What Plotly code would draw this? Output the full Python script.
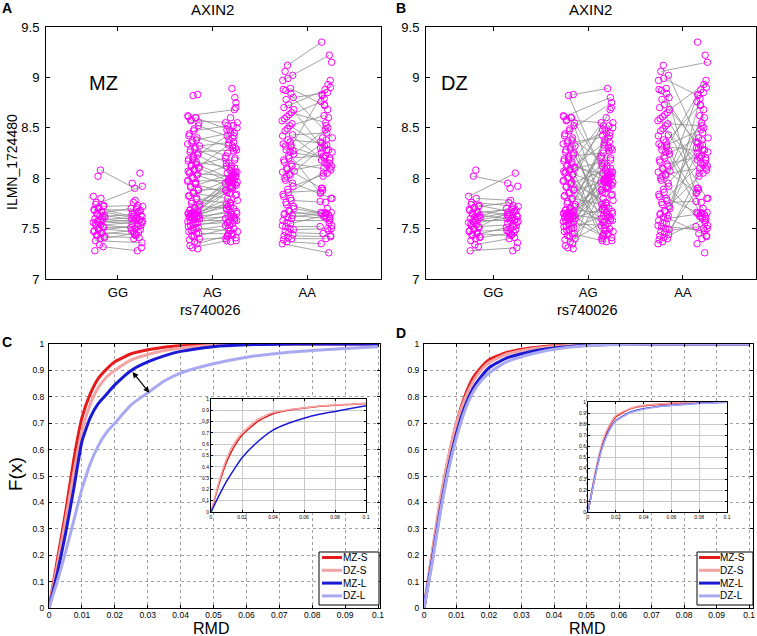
import plotly.graph_objects as go

W, H = 757, 636
FONT = "Liberation Sans, Arial, sans-serif"

# ---------------- data: expression by genotype (twin 1 / twin 2) ----------------
GENOTYPES = ["GG", "AG", "AA"]

GG_MZ_T1 = [8.08, 7.74, 7.72, 7.70, 7.69, 7.67, 7.65, 7.63, 7.62, 7.60, 7.59, 7.57, 7.56, 7.54, 7.53, 7.51, 7.50, 7.48, 7.46, 7.44, 7.42, 7.40, 7.38, 7.32]
GG_MZ_T2 = [7.90, 7.92, 7.73, 7.62, 7.68, 7.60, 7.70, 7.58, 7.64, 7.56, 7.61, 7.55, 7.59, 7.50, 7.57, 7.52, 7.47, 7.53, 7.44, 7.48, 7.41, 7.45, 7.36, 7.28]
GG_DZ_T1 = [8.02, 7.82, 7.80, 7.76, 7.73, 7.71, 7.68, 7.66, 7.64, 7.61, 7.58, 7.55, 7.52, 7.49, 7.47, 7.45, 7.43, 7.41, 7.34, 7.28, 7.62, 7.57]
GG_DZ_T2 = [7.95, 8.05, 7.78, 7.72, 7.66, 7.76, 7.63, 7.69, 7.60, 7.67, 7.58, 7.62, 7.54, 7.66, 7.49, 7.43, 7.51, 7.46, 7.40, 7.31, 7.71, 7.64]

AG_MZ_T1 = [8.62, 8.60, 8.57, 8.52, 8.47, 8.42, 8.38, 8.35, 8.32, 8.29, 8.26, 8.23, 8.20, 8.17, 8.14, 8.12, 8.10, 8.08, 8.05, 8.03,
            8.00, 7.97, 7.94, 7.91, 7.88, 7.85, 7.82, 7.79, 7.75, 7.72, 7.70, 7.68, 7.67, 7.66, 7.65, 7.64, 7.64, 7.63, 7.63, 7.62,
            7.62, 7.61, 7.60, 7.59, 7.58, 7.56, 7.54, 7.52, 7.50, 7.48, 7.45, 7.42, 7.39, 7.35, 7.31]
AG_MZ_T2 = [8.68, 8.48, 8.55, 8.40, 8.52, 8.30, 8.45, 8.22, 8.36, 8.15, 8.28, 8.05, 8.42, 8.10, 8.00, 8.20, 7.95, 8.33, 8.02, 7.92,
            8.12, 7.98, 7.85, 8.06, 7.90, 7.80, 8.01, 7.75, 7.88, 7.70, 7.97, 7.93, 7.99, 7.86, 8.04, 7.96, 7.78, 7.91, 7.72, 7.83,
            7.66, 7.74, 7.62, 7.68, 7.58, 7.64, 7.56, 7.60, 7.48, 7.53, 7.45, 7.50, 7.41, 7.44, 7.38]
AG_DZ_T1 = [8.83, 8.82, 8.61, 8.60, 8.58, 8.55, 8.49, 8.44, 8.40, 8.37, 8.34, 8.31, 8.28, 8.25, 8.22, 8.19, 8.16, 8.13, 8.11, 8.09,
            8.06, 8.04, 8.01, 7.98, 7.95, 7.92, 7.89, 7.86, 7.83, 7.80, 7.77, 7.74, 7.71, 7.69, 7.67, 7.66, 7.65, 7.65, 7.64, 7.63,
            7.62, 7.61, 7.60, 7.59, 7.57, 7.55, 7.53, 7.51, 7.49, 7.47, 7.45, 7.43, 7.40, 7.37, 7.33, 7.30, 8.18, 8.07, 7.96, 7.64]
AG_DZ_T2 = [8.89, 8.05, 8.80, 7.62, 8.55, 8.00, 7.45, 8.75, 8.12, 7.70, 8.42, 7.98, 8.50, 7.55, 8.25, 7.94, 8.60, 7.40, 8.03, 8.35,
            7.67, 7.92, 8.48, 7.58, 8.08, 7.47, 8.30, 7.97, 8.70, 7.73, 8.15, 7.50, 8.38, 7.65, 8.02, 7.43, 8.20, 7.90, 7.60, 8.52,
            7.99, 7.38, 8.10, 7.69, 8.45, 7.53, 7.96, 8.32, 7.63, 8.06, 7.37, 7.88, 8.27, 7.57, 7.84, 8.01, 7.42, 8.18, 7.76, 7.95]

AA_MZ_T1 = [9.12, 8.97, 8.89, 8.87, 8.80, 8.73, 8.70, 8.65, 8.61, 8.57, 8.52, 8.47, 8.43, 8.38, 8.34, 8.31, 8.28, 8.24, 8.20, 8.16,
            8.12, 8.09, 8.06, 8.03, 7.98, 7.92, 7.86, 7.82, 7.78, 7.74, 7.70, 7.67, 7.65, 7.63, 7.61, 7.58, 7.55, 7.52, 7.49, 7.46,
            7.43, 7.40, 7.37, 7.35, 8.26]
AA_MZ_T2 = [9.35, 9.22, 8.72, 8.40, 8.85, 8.30, 8.90, 8.55, 8.76, 8.28, 8.62, 8.12, 8.45, 8.35, 8.18, 8.88, 7.85, 8.50, 8.22, 8.08,
            8.38, 7.90, 8.15, 8.32, 7.80, 8.05, 7.88, 8.10, 7.76, 7.66, 7.64, 7.62, 7.66, 7.60, 7.65, 7.58, 7.63, 7.52, 7.50, 7.45,
            7.42, 7.40, 7.35, 7.26, 8.20]
AA_DZ_T1 = [9.06, 9.02, 8.99, 8.88, 8.84, 8.78, 8.68, 8.63, 8.59, 8.54, 8.49, 8.42, 8.36, 8.32, 8.27, 8.22, 8.18, 8.14, 8.10, 8.07,
            8.04, 8.00, 7.95, 7.89, 7.84, 7.80, 7.76, 7.72, 7.68, 7.64, 7.60, 7.56, 7.53, 7.50, 7.47, 7.44, 7.41, 7.39, 8.33, 8.02]
AA_DZ_T2 = [9.15, 8.28, 8.82, 8.20, 7.66, 8.36, 8.93, 8.05, 7.80, 8.52, 8.18, 7.56, 8.73, 8.26, 7.70, 8.40, 8.97, 8.22, 7.86, 8.60,
            8.10, 7.50, 8.33, 8.83, 7.62, 8.15, 7.77, 8.68, 8.02, 7.43, 7.65, 8.25, 7.48, 8.79, 7.53, 8.13, 7.90, 7.60, 8.48, 8.30]

EXPR_TICKS = [7, 7.5, 8, 8.5, 9, 9.5]
EXPR_TICK_TEXT = ["7", "7.5", "8", "8.5", "9", "9.5"]

# ---------------- data: cumulative distributions of RMD ----------------
SERIES = ["MZ-S", "DZ-S", "MZ-L", "DZ-L"]
COLORS = ["#e61b1b", "#f2a3a3", "#1a1ad6", "#a9a9f1"]

RMD_X = [0, 0.0025, 0.005, 0.0075, 0.01, 0.0125, 0.015, 0.0175, 0.02, 0.025, 0.03, 0.035, 0.04, 0.05, 0.06, 0.07, 0.08, 0.09, 0.1]
C_MZ_S = [0, 0.18, 0.36, 0.56, 0.72, 0.81, 0.87, 0.905, 0.933, 0.963, 0.978, 0.988, 0.993, 0.998, 1.0, 1.0, 1.0, 1.0, 1.0]
C_DZ_S = [0, 0.16, 0.33, 0.51, 0.67, 0.77, 0.835, 0.875, 0.90, 0.94, 0.96, 0.975, 0.985, 0.995, 0.999, 1.0, 1.0, 1.0, 1.0]
C_MZ_L = [0, 0.13, 0.28, 0.45, 0.63, 0.72, 0.775, 0.81, 0.845, 0.90, 0.932, 0.955, 0.972, 0.99, 0.997, 0.999, 1.0, 1.0, 1.0]
C_DZ_L = [0, 0.10, 0.21, 0.33, 0.45, 0.545, 0.615, 0.665, 0.70, 0.77, 0.815, 0.86, 0.89, 0.925, 0.95, 0.965, 0.975, 0.983, 0.99]

D_MZ_S = [0, 0.20, 0.40, 0.565, 0.70, 0.80, 0.87, 0.91, 0.94, 0.966, 0.98, 0.988, 0.993, 0.999, 1.0, 1.0, 1.0, 1.0, 1.0]
D_DZ_S = [0, 0.21, 0.41, 0.57, 0.70, 0.79, 0.855, 0.90, 0.93, 0.96, 0.975, 0.985, 0.991, 0.998, 1.0, 1.0, 1.0, 1.0, 1.0]
D_MZ_L = [0, 0.18, 0.37, 0.53, 0.66, 0.76, 0.83, 0.875, 0.91, 0.945, 0.963, 0.976, 0.985, 0.995, 0.999, 1.0, 1.0, 1.0, 1.0]
D_DZ_L = [0, 0.17, 0.36, 0.52, 0.645, 0.745, 0.815, 0.86, 0.89, 0.93, 0.952, 0.968, 0.98, 0.993, 0.998, 1.0, 1.0, 1.0, 1.0]

INSET_X = [0, 0.005, 0.01, 0.015, 0.02, 0.03, 0.04, 0.05, 0.06, 0.07, 0.08, 0.09, 0.1]
IC_MZ_S = [0, 0.24, 0.44, 0.58, 0.68, 0.80, 0.87, 0.90, 0.92, 0.935, 0.945, 0.952, 0.96]
IC_DZ_S = [0, 0.26, 0.47, 0.61, 0.70, 0.82, 0.88, 0.905, 0.922, 0.937, 0.947, 0.954, 0.962]
IC_MZ_L = [0, 0.14, 0.27, 0.38, 0.48, 0.62, 0.725, 0.785, 0.83, 0.865, 0.89, 0.915, 0.94]
ID_MZ_S = [0, 0.33, 0.60, 0.77, 0.865, 0.935, 0.965, 0.978, 0.987, 0.993, 0.997, 0.999, 1.0]
ID_DZ_S = [0, 0.35, 0.62, 0.78, 0.875, 0.94, 0.97, 0.982, 0.99, 0.995, 0.998, 0.999, 1.0]
ID_MZ_L = [0, 0.32, 0.58, 0.74, 0.83, 0.905, 0.938, 0.958, 0.97, 0.98, 0.988, 0.994, 0.998]
ID_DZ_L = [0, 0.31, 0.57, 0.73, 0.825, 0.90, 0.935, 0.955, 0.968, 0.978, 0.986, 0.992, 0.997]

RMD_TICKS = [0, 0.01, 0.02, 0.03, 0.04, 0.05, 0.06, 0.07, 0.08, 0.09, 0.1]
RMD_TICK_TEXT = ["0", "0.01", "0.02", "0.03", "0.04", "0.05", "0.06", "0.07", "0.08", "0.09", "0.1"]
F_TICKS = [0, 0.1, 0.2, 0.3, 0.4, 0.5, 0.6, 0.7, 0.8, 0.9, 1]
F_TICK_TEXT = ["0", "0.1", "0.2", "0.3", "0.4", "0.5", "0.6", "0.7", "0.8", "0.9", "1"]
INSET_TICKS = [0, 0.02, 0.04, 0.06, 0.08, 0.1]
INSET_TICK_TEXT = ["0", "0.02", "0.04", "0.06", "0.08", "0.1"]

ARROW_FROM = (0.025, 0.90)
ARROW_TO = (0.0305, 0.815)

# ---------------- layout geometry (pixels) ----------------
BOX = {
    "A": (46, 381, 27, 279),
    "B": (426, 756, 27, 279),
    "C": (49, 380, 344, 608),
    "D": (424, 753, 344, 608),
    "iC": (211, 366, 399, 512),
    "iD": (588, 727, 402, 512),
}


def dom(key):
    x0, x1, y0, y1 = BOX[key]
    return [x0 / W, x1 / W], [1 - y1 / H, 1 - y0 / H]


def px(x):
    return x / W


def py(y):
    return 1 - y / H


fig = go.Figure()

# ---------------- panels A & B ----------------
GROUPS = [
    (GG_MZ_T1, GG_MZ_T2, GG_DZ_T1, GG_DZ_T2),
    (AG_MZ_T1, AG_MZ_T2, AG_DZ_T1, AG_DZ_T2),
    (AA_MZ_T1, AA_MZ_T2, AA_DZ_T1, AA_DZ_T2),
]


def spread(k):
    return ((k * 0.6180339887) % 1.0) - 0.5


pts_x, pts_y = [], []
lines = {"MZ": ([], []), "DZ": ([], [])}
for gi, (mz1, mz2, dz1, dz2) in enumerate(GROUPS):
    c = gi + 1
    k0 = gi * 300
    for kind, t1, t2, off in (("MZ", mz1, mz2, 0), ("DZ", dz1, dz2, 100)):
        for i, (a, b) in enumerate(zip(t1, t2)):
            xa = c - 0.2 + 0.13 * spread(k0 + off + i + 1)
            xb = c + 0.2 + 0.13 * spread(k0 + off + i + 151)
            pts_x += [xa, xb]
            pts_y += [a, b]
            lx, ly = lines[kind]
            lx += [xa, xb, None]
            ly += [a, b, None]

for kind, (xa, ya) in (("MZ", ("x", "y")), ("DZ", ("x2", "y2"))):
    lx, ly = lines[kind]
    fig.add_trace(go.Scatter(x=lx, y=ly, mode="lines", xaxis=xa, yaxis=ya,
                             line=dict(color="#8c8c8c", width=0.8), hoverinfo="skip", showlegend=False))
    fig.add_trace(go.Scatter(x=pts_x, y=pts_y, mode="markers", xaxis=xa, yaxis=ya,
                             marker=dict(symbol="circle-open", size=6.5, color="#ff00ff", line=dict(width=1, color="#ff00ff")),
                             showlegend=False))

# ---------------- panels C & D ----------------
C_SERIES = [C_MZ_S, C_DZ_S, C_MZ_L, C_DZ_L]
D_SERIES = [D_MZ_S, D_DZ_S, D_MZ_L, D_DZ_L]
for series, (xa, ya) in ((C_SERIES, ("x3", "y3")), (D_SERIES, ("x4", "y4"))):
    for name, vals, col in zip(SERIES, series, COLORS):
        fig.add_trace(go.Scatter(x=RMD_X, y=vals, mode="lines", name=name, xaxis=xa, yaxis=ya,
                                 line=dict(color=col, width=3, shape="spline", smoothing=0.5), showlegend=False))

for name, vals, col in zip(SERIES[:3], [IC_MZ_S, IC_DZ_S, IC_MZ_L], COLORS[:3]):
    fig.add_trace(go.Scatter(x=INSET_X, y=vals, mode="lines", name=name, xaxis="x5", yaxis="y5",
                             line=dict(color=col, width=1.5, shape="spline", smoothing=0.5), showlegend=False))
for name, vals, col in zip(SERIES, [ID_MZ_S, ID_DZ_S, ID_MZ_L, ID_DZ_L], COLORS):
    fig.add_trace(go.Scatter(x=INSET_X, y=vals, mode="lines", name=name, xaxis="x6", yaxis="y6",
                             line=dict(color=col, width=1.5, shape="spline", smoothing=0.5), showlegend=False))

# ---------------- axes ----------------
base = dict(showline=True, linecolor="black", linewidth=1, mirror="ticks", ticks="inside",
            tickcolor="black", zeroline=False, fixedrange=True, automargin=False)

xa_dom, ya_dom = dom("A")
xb_dom, yb_dom = dom("B")
xc_dom, yc_dom = dom("C")
xd_dom, yd_dom = dom("D")
xic_dom, yic_dom = dom("iC")
xid_dom, yid_dom = dom("iD")

cat_x = dict(base, tickvals=[1, 2, 3], ticktext=GENOTYPES, showgrid=False, ticklen=4,
             tickfont=dict(family=FONT, size=13, color="black"), ticklabelstandoff=1)
expr_y = dict(base, range=[7, 9.5], tickvals=EXPR_TICKS, ticktext=EXPR_TICK_TEXT, showgrid=False, ticklen=4,
              tickfont=dict(family=FONT, size=13, color="black"), ticklabelstandoff=3)
rmd_x = dict(base, tickvals=RMD_TICKS, ticktext=RMD_TICK_TEXT, showgrid=True, gridcolor="#a0a0a0",
             griddash="dot", gridwidth=1, ticklen=3, tickfont=dict(family=FONT, size=8.5, color="black"),
             ticklabelstandoff=-1)
f_y = dict(base, range=[0, 1], tickvals=F_TICKS, ticktext=F_TICK_TEXT, showgrid=True, gridcolor="#a0a0a0",
           griddash="dot", gridwidth=1, ticklen=3, tickfont=dict(family=FONT, size=8.5, color="black"),
           ticklabelstandoff=2)
in_x = dict(base, range=[0, 0.1], tickvals=INSET_TICKS, ticktext=INSET_TICK_TEXT, showgrid=True,
            gridcolor="#c8c8c8", gridwidth=1, ticklen=2, tickfont=dict(family=FONT, size=5, color="black"),
            ticklabelstandoff=0)
in_y = dict(base, range=[0, 1], tickvals=F_TICKS, ticktext=F_TICK_TEXT, showgrid=True,
            gridcolor="#c8c8c8", gridwidth=1, ticklen=2, tickfont=dict(family=FONT, size=5, color="black"),
            ticklabelstandoff=0)

fig.update_layout(
    xaxis=dict(cat_x, domain=xa_dom, range=[0.24, 3.78], anchor="y"),
    yaxis=dict(expr_y, domain=ya_dom, anchor="x"),
    xaxis2=dict(cat_x, domain=xb_dom, range=[0.29, 3.77], anchor="y2"),
    yaxis2=dict(expr_y, domain=yb_dom, anchor="x2"),
    xaxis3=dict(rmd_x, domain=xc_dom, range=[0, 0.1006], anchor="y3"),
    yaxis3=dict(f_y, domain=yc_dom, anchor="x3"),
    xaxis4=dict(rmd_x, domain=xd_dom, range=[0, 0.1012], anchor="y4"),
    yaxis4=dict(f_y, domain=yd_dom, anchor="x4"),
    xaxis5=dict(in_x, domain=xic_dom, anchor="y5"),
    yaxis5=dict(in_y, domain=yic_dom, anchor="x5"),
    xaxis6=dict(in_x, domain=xid_dom, anchor="y6"),
    yaxis6=dict(in_y, domain=yid_dom, anchor="x6"),
)

# white backgrounds of the insets (drawn in the inset subplot layer, above main grid)
shapes = []
for xr, yr in (("x5", "y5"), ("x6", "y6")):
    shapes.append(dict(type="rect", xref=xr, yref=yr, x0=0, x1=0.1, y0=0, y1=1, layer="below",
                       fillcolor="white", line=dict(width=0)))

# ---------------- legends (drawn manually, compact like the original) ----------------
annotations = []
LEG = {"C": (319, 379, 552, 605, 322, 342, 341), "D": (697, 753, 552, 605, 699, 720, 718)}
for key, (bx0, bx1, by0, by1, lx0, lx1, tx) in LEG.items():
    shapes.append(dict(type="rect", xref="paper", yref="paper", x0=px(bx0), x1=px(bx1), y0=py(by1), y1=py(by0),
                       fillcolor="white", line=dict(color="black", width=1), layer="above"))
    for i, (name, col) in enumerate(zip(SERIES, COLORS)):
        yy = 557.5 + 12.8 * i
        shapes.append(dict(type="line", xref="paper", yref="paper", x0=px(lx0), x1=px(lx1), y0=py(yy), y1=py(yy),
                           line=dict(color=col, width=3), layer="above"))
        annotations.append(dict(text=name, xref="paper", yref="paper", x=px(tx), y=py(yy), xanchor="left",
                                yanchor="middle", showarrow=False, font=dict(family=FONT, size=10, color="black")))


def label(text, x, y, size, bold=False, angle=0):
    annotations.append(dict(text=("<b>%s</b>" % text) if bold else text, xref="paper", yref="paper",
                            x=px(x), y=py(y), xanchor="center", yanchor="middle", showarrow=False,
                            textangle=angle, font=dict(family=FONT, size=size, color="black")))


label("A", 7, 8, 14, bold=True)
label("B", 401, 8, 14, bold=True)
label("C", 7, 342, 14, bold=True)
label("D", 401, 333, 14, bold=True)
label("AXIN2", 212, 9, 15)
label("AXIN2", 590, 9, 15)
label("MZ", 103, 83, 20)
label("DZ", 454, 83, 20)
label("ILMN_1724480", 12, 162, 14, angle=-90)
label("rs740026", 210, 310, 14.5)
label("rs740026", 587, 310, 14.5)
label("F(x)", 16, 474, 19, angle=-90)
label("RMD", 211, 628, 16)
label("RMD", 587, 628, 16)

annotations.append(dict(x=ARROW_TO[0], y=ARROW_TO[1], ax=ARROW_FROM[0], ay=ARROW_FROM[1],
                        xref="x3", yref="y3", axref="x3", ayref="y3", text="", showarrow=True,
                        arrowhead=2, startarrowhead=2, arrowside="end+start", arrowsize=1,
                        arrowwidth=1.2, arrowcolor="black"))

fig.update_layout(
    width=W, height=H, autosize=False,
    margin=dict(l=0, r=0, t=0, b=0, pad=0, autoexpand=False),
    paper_bgcolor="white", plot_bgcolor="white",
    showlegend=False,
    font=dict(family=FONT, color="black"),
    shapes=shapes, annotations=annotations,
)

fig.write_html("out.html", config={"displayModeBar": False},
               post_script="document.body.style.margin='0';document.body.style.overflow='hidden';")
